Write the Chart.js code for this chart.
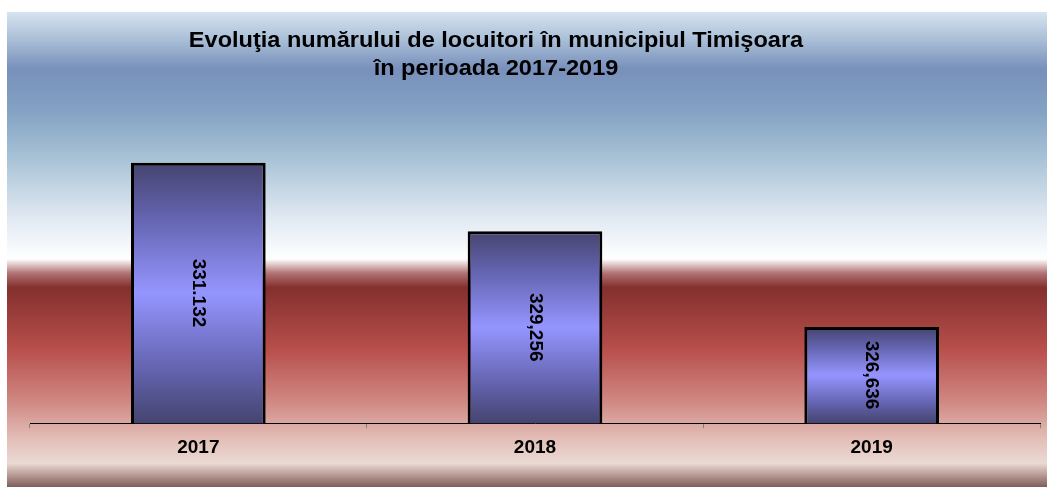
<!DOCTYPE html>
<html>
<head>
<meta charset="utf-8">
<script src="https://cdn.jsdelivr.net/npm/chart.js@4.4.1/dist/chart.umd.min.js"></script>
<style>
  html, body { margin: 0; padding: 0; background: #fff; }
  #wrap { width: 1047px; height: 487px; }
</style>
</head>
<body>
<div id="wrap"><canvas id="c"></canvas></div>
<script>
const years = ['2017', '2018', '2019'];
const population = [331132, 329256, 326636];
const valueLabels = ['331.132', '329,256', '326,636'];
const titleLines = ['Evoluţia numărului de locuitori în municipiul Timişoara', 'în perioada 2017-2019'];

// gradient backdrop + title
const backdrop = {
  id: 'backdrop',
  beforeDraw(chart) {
    const ctx = chart.ctx;
    const top = 12, bottom = chart.height, left = 7, right = chart.width;
    const g = ctx.createLinearGradient(0, top, 0, bottom);
    g.addColorStop(0, '#d6e4f0');
    g.addColorStop(0.06, '#a8bdd6');
    g.addColorStop(0.12, '#7890bb');
    g.addColorStop(0.21, '#84a3c4');
    g.addColorStop(0.31, '#a9c3d6');
    g.addColorStop(0.43, '#dfe8f1');
    g.addColorStop(0.52, '#ffffff');
    g.addColorStop(0.55, '#b07272');
    g.addColorStop(0.58, '#83302e');
    g.addColorStop(0.71, '#b84f4b');
    g.addColorStop(0.82, '#d08883');
    g.addColorStop(0.90, '#e3bfb8');
    g.addColorStop(0.95, '#ebdad4');
    g.addColorStop(0.975, '#b89a94');
    g.addColorStop(1, '#7d5e5a');
    ctx.save();
    ctx.fillStyle = g;
    ctx.fillRect(left, top, right - left, bottom - top);
    ctx.fillStyle = '#000';
    ctx.font = 'bold 22px "Liberation Sans", Arial, sans-serif';
    ctx.textAlign = 'center';
    ctx.textBaseline = 'alphabetic';
    ctx.save();
    ctx.translate(496, 0);
    ctx.scale(1.07, 1);
    ctx.fillText(titleLines[0], 0, 47);
    ctx.fillText(titleLines[1], 0, 75);
    ctx.restore();
    ctx.restore();
  },
  afterDraw(chart) {
    const ctx = chart.ctx;
    const meta = chart.getDatasetMeta(0);
    const ys = chart.scales.y;
    ctx.save();
    ctx.fillStyle = '#000';
    ctx.font = 'bold 19px "Liberation Sans", Arial, sans-serif';
    ctx.textAlign = 'center';
    ctx.textBaseline = 'middle';
    meta.data.forEach((bar, i) => {
      const p = bar.getProps(['x'], true);
      const top = ys.getPixelForValue(population[i]);
      const cy = (top + ys.bottom) / 2;
      ctx.save();
      ctx.translate(p.x, cy);
      ctx.rotate(Math.PI / 2);
      ctx.fillText(valueLabels[i], 0, 0);
      ctx.restore();
    });
    ctx.restore();
  }
};

function barFill(context) {
  const chart = context.chart;
  const y = chart.scales.y;
  if (!chart.chartArea || !y || !context.parsed) return '#7a7ad0';
  const t = y.getPixelForValue(context.parsed.y);
  const b = y.bottom;
  if (!isFinite(t) || !isFinite(b) || b - t < 1) return '#7a7ad0';
  const g = chart.ctx.createLinearGradient(0, t, 0, b);
  g.addColorStop(0, '#45446f');
  g.addColorStop(0.2, '#6262ad');
  g.addColorStop(0.5, '#9595ff');
  g.addColorStop(0.8, '#6262ad');
  g.addColorStop(1, '#45446f');
  return g;
}

new Chart(document.getElementById('c'), {
  type: 'bar',
  data: {
    labels: years,
    datasets: [{
      data: population,
      backgroundColor: barFill,
      borderColor: '#000',
      borderWidth: 3,
      borderSkipped: false,
      categoryPercentage: 1,
      barPercentage: 0.4
    }]
  },
  options: {
    responsive: true,
    maintainAspectRatio: false,
    animation: false,
    layout: { padding: { left: 30, right: 7, top: 58, bottom: 20 } },
    plugins: {
      legend: { display: false },
      tooltip: { enabled: false }
    },
    scales: {
      y: {
        display: false,
        min: 324000,
        max: 334000
      },
      x: {
        grid: { display: true, drawOnChartArea: false, color: '#808080', tickLength: 5, offset: true },
        border: { display: true, color: '#000', width: 1 },
        ticks: { color: '#000', padding: 8, font: { size: 19, weight: 'bold', family: '"Liberation Sans", Arial, sans-serif' } }
      }
    }
  },
  plugins: [backdrop]
});
</script>
</body>
</html>
